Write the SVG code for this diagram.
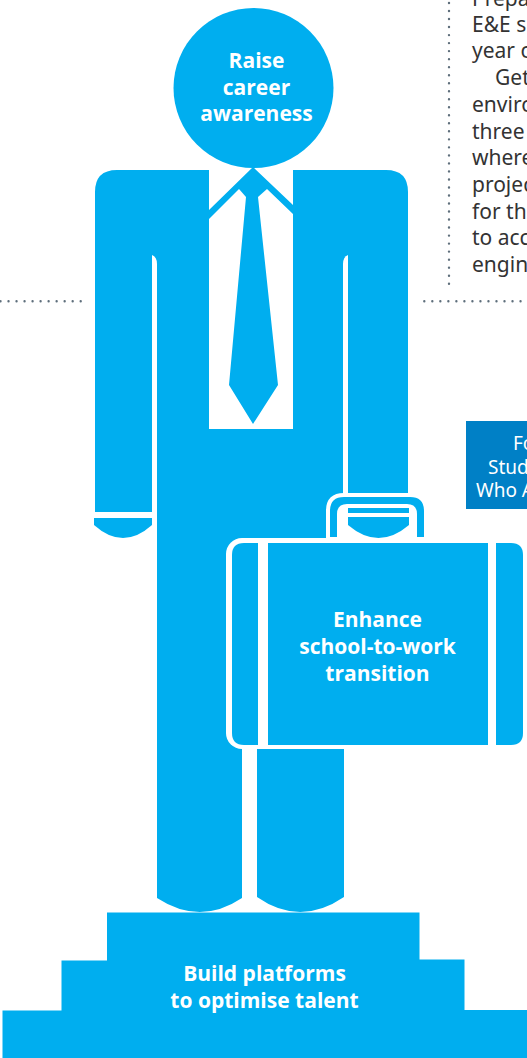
<svg xmlns="http://www.w3.org/2000/svg" width="527" height="1058" viewBox="0 0 527 1058">
<style>
.b{fill:#00aeef}
.w{fill:#fff}
.t{font-family:"Open Sans","Noto Sans",sans-serif;font-weight:700;font-size:21px;fill:#fff;text-anchor:middle}
.p{font-family:"Noto Sans","Open Sans",sans-serif;font-size:21px;fill:#333}
.q{font-family:"Noto Sans","Open Sans",sans-serif;font-size:19px;fill:#fff}
.d{fill:none;stroke:#5f6f7c;stroke-width:2.4;stroke-linecap:round;stroke-dasharray:0 8.02}
</style>
<rect width="527" height="1058" fill="#fff"/>
<g id="rules">
<path class="d" d="M449 3V286"/>
<path class="d" d="M0.5 301.3H82"/>
<path class="d" d="M424.3 301.3H521"/>
</g>
<g id="body-text">
<text class="p" x="472" y="6">Prepa</text>
<text class="p" x="472" y="32">E&amp;E s</text>
<text class="p" x="472" y="58">year o</text>
<text class="p" x="495" y="85">Get</text>
<text class="p" x="472" y="112">enviro</text>
<text class="p" x="472" y="139">three</text>
<text class="p" x="472" y="165">where</text>
<text class="p" x="472" y="192">projec</text>
<text class="p" x="472" y="219">for the</text>
<text class="p" x="472" y="245">to acc</text>
<text class="p" x="472" y="272">engin</text>
</g>
<g id="side-box">
<rect x="466" y="421" width="61" height="88" fill="#0080c6"/>
<text class="q" x="513" y="450">Fo</text>
<text class="q" x="488" y="474">Stud</text>
<text class="q" x="476" y="497">Who A</text>
</g>
<g id="suit">
<path class="b" d="M95 192Q95 170 117 170H386Q408 170 408 192V493H343V749H344V897Q300 927 257 897V749H242V898Q200 926 157 898V512H95Z"/>
<path class="w" d="M152 255Q157 257 157 264V517H94V512H152Z"/>
<path class="w" d="M348 255Q343 257 343 264V493H348Z"/>
<path class="b" d="M94 518H152V525Q123 551 94 525Z"/>
<rect class="w" x="209" y="165" width="84" height="264"/>
</g>
<g id="tie">
<path class="b" d="M253 167L293 205V214L267 189L258 197L278 385L253 424L229 385L246 197L239 189L209 219V210Z"/>
</g>
<g id="head">
<circle class="b" cx="253.5" cy="88" r="80"/>
<text class="t" x="256.5" y="68">Raise</text>
<text class="t" x="256.5" y="95">career</text>
<text class="t" x="256.5" y="121">awareness</text>
</g>
<g id="briefcase">
<path class="w" d="M326 540V511Q326 493 344 493H408Q428 493 428 513V540Z"/>
<path class="b" d="M330 537V511Q330 497 344 497H410Q424 497 424 511V537H417V514Q417 504 407 504H347Q337 504 337 514V537Z"/>
<rect class="b" x="348" y="508" width="61" height="5"/>
<path class="b" d="M348 517H409V525Q378.500 551 348 525Z"/>
<rect class="w" x="226" y="538" width="301" height="211" rx="16"/>
<path class="b" d="M258 543V745H244Q232 745 232 733V555Q232 543 244 543Z"/>
<rect class="b" x="268" y="543" width="220" height="202"/>
<path class="b" d="M496 543H511Q523 543 523 555V733Q523 745 511 745H496Z"/>
<text class="t" x="377.500" y="627">Enhance</text>
<text class="t" x="377.500" y="654">school-to-work</text>
<text class="t" x="377.500" y="681">transition</text>
</g>
<g id="plinth">
<path class="b" d="M107 912.500H419.500V959.500H464.500V1010H527V1058H2.500V1010.500H61.500V960.500H107Z"/>
<text class="t" x="264.500" y="981">Build platforms</text>
<text class="t" x="264.500" y="1008">to optimise talent</text>
</g>
</svg>
